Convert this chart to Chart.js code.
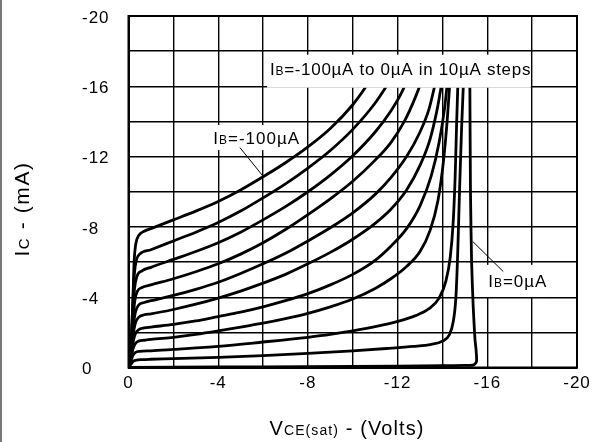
<!DOCTYPE html>
<html><head><meta charset="utf-8">
<script src="https://cdn.jsdelivr.net/npm/chart.js@4/dist/chart.umd.min.js"></script>
<style>
html,body{margin:0;padding:0;background:#fff;}
#wrap{position:relative;width:594px;height:442px;}
#edge{position:absolute;left:0;top:0;width:2px;height:442px;background:#777;}
canvas{display:block}
</style></head><body>
<div id="wrap"><canvas id="c" width="594" height="442"></canvas><div id="edge"></div></div>
<script>
// ---- data: V_CE (volts) , I_C (mA) pairs per base current ----
const ibSteps = ['-100','-90','-80','-70','-60','-50','-40','-30','-20','-10','0']; // µA
const curveIb100 = [[0,0],[-0.12,-1.5],[-0.2,-4],[-0.25,-6],[-0.32,-7.0],[-0.45,-7.5],[-0.7,-7.75],[-1,-7.9],[-2,-8.4],[-3,-8.9],[-4,-9.45],[-5,-10.1],[-6,-10.85],[-7,-11.65],[-8,-12.55],[-9,-13.6],[-10,-14.95],[-10.6,-16],[-10.9,-16.6]];
const curveIb90 = [[0,0],[-0.12,-1.5],[-0.2,-3.8],[-0.26,-5.3],[-0.35,-6.1],[-0.5,-6.45],[-1,-6.7],[-2,-7.2],[-3,-7.7],[-4,-8.25],[-5,-8.9],[-6,-9.65],[-7,-10.45],[-8,-11.35],[-9,-12.35],[-10,-13.55],[-11,-15.05],[-11.6,-16.2],[-11.8,-16.6]];
const curveIb80 = [[0,0],[-0.12,-1.3],[-0.2,-3.2],[-0.27,-4.5],[-0.38,-5.2],[-0.6,-5.5],[-1,-5.7],[-2,-6.15],[-3,-6.6],[-4,-7.1],[-5,-7.7],[-6,-8.4],[-7,-9.15],[-8,-10.0],[-9,-10.95],[-10,-12.05],[-11,-13.4],[-11.7,-14.6],[-12.2,-15.7],[-12.5,-16.6]];
const curveIb70 = [[0,0],[-0.12,-1.2],[-0.2,-2.7],[-0.28,-3.8],[-0.4,-4.35],[-0.6,-4.55],[-1,-4.7],[-2,-5.05],[-3,-5.45],[-4,-5.9],[-5,-6.45],[-6,-7.1],[-7,-7.85],[-8,-8.7],[-9,-9.6],[-10,-10.6],[-11,-11.8],[-11.7,-12.8],[-12.3,-14.0],[-12.8,-15.4],[-13.15,-16.6]];
const curveIb60 = [[0,0],[-0.12,-1.0],[-0.2,-2.2],[-0.3,-3.1],[-0.45,-3.55],[-0.7,-3.7],[-1,-3.8],[-2,-4.1],[-3,-4.45],[-4,-4.85],[-5,-5.35],[-6,-5.9],[-7,-6.5],[-8,-7.2],[-9,-7.95],[-10,-8.8],[-11,-9.85],[-11.7,-10.8],[-12.4,-12.0],[-13.0,-13.4],[-13.4,-14.7],[-13.65,-16],[-13.75,-16.6]];
const curveIb50 = [[0,0],[-0.12,-0.9],[-0.2,-1.8],[-0.3,-2.5],[-0.45,-2.85],[-0.7,-3.0],[-1,-3.05],[-2,-3.3],[-3,-3.6],[-4,-3.95],[-5,-4.35],[-6,-4.8],[-7,-5.3],[-8,-5.9],[-9,-6.55],[-10,-7.3],[-11,-8.2],[-11.7,-9.0],[-12.4,-10.1],[-13.0,-11.5],[-13.45,-13.0],[-13.75,-14.6],[-13.95,-16],[-14.05,-16.6]];
const curveIb40 = [[0,0],[-0.12,-0.8],[-0.2,-1.4],[-0.3,-1.9],[-0.45,-2.15],[-0.7,-2.25],[-1,-2.3],[-2,-2.45],[-3,-2.65],[-4,-2.9],[-5,-3.15],[-6,-3.45],[-7,-3.8],[-8,-4.2],[-9,-4.7],[-10,-5.3],[-11,-6.1],[-11.7,-6.9],[-12.4,-7.9],[-13.0,-9.2],[-13.5,-10.9],[-13.85,-12.8],[-14.1,-14.8],[-14.25,-16.6]];
const curveIb30 = [[0,0],[-0.12,-0.6],[-0.2,-1.05],[-0.3,-1.35],[-0.45,-1.5],[-0.7,-1.55],[-1,-1.6],[-2,-1.72],[-3,-1.88],[-4,-2.08],[-5,-2.3],[-6,-2.52],[-7,-2.78],[-8,-3.08],[-9,-3.45],[-10,-3.9],[-11,-4.5],[-11.7,-5.05],[-12.4,-5.75],[-13.0,-6.6],[-13.45,-7.8],[-13.8,-9.5],[-14.05,-11.8],[-14.22,-14.2],[-14.35,-16.6]];
const curveIb20 = [[0,0],[-0.12,-0.4],[-0.2,-0.7],[-0.3,-0.85],[-0.5,-0.92],[-1,-0.95],[-2,-1.03],[-4,-1.2],[-6,-1.45],[-8,-1.72],[-9,-1.88],[-10,-2.08],[-11,-2.32],[-12,-2.62],[-12.8,-2.95],[-13.4,-3.35],[-13.85,-3.95],[-14.15,-4.9],[-14.35,-6.3],[-14.48,-8.3],[-14.57,-11],[-14.63,-13.8],[-14.7,-16.6]];
const curveIb10 = [[0,0],[-0.12,-0.2],[-0.2,-0.35],[-0.35,-0.42],[-0.6,-0.45],[-1,-0.47],[-2,-0.5],[-4,-0.58],[-6,-0.68],[-8,-0.8],[-10,-0.95],[-11.5,-1.08],[-12.7,-1.2],[-13.5,-1.32],[-14.0,-1.5],[-14.3,-1.85],[-14.48,-2.6],[-14.6,-4.0],[-14.68,-6.5],[-14.76,-10],[-14.85,-13.5],[-14.95,-16.6]];
const curveIb0 = [[0,0],[-4,-0.03],[-8,-0.05],[-12,-0.08],[-14,-0.1],[-15.0,-0.12],[-15.4,-0.15],[-15.52,-0.35],[-15.5,-1.0],[-15.45,-1.6],[-15.37,-3.5],[-15.3,-6],[-15.25,-10],[-15.22,-16.6]];
const curves = [curveIb100,curveIb90,curveIb80,curveIb70,curveIb60,curveIb50,curveIb40,curveIb30,curveIb20,curveIb10,curveIb0];

const xTickValues = [0,-4,-8,-12,-16,-20];
const xTickLabels = ['0','-4','-8','-12','-16','-20'];
const yTickValues = [0,-4,-8,-12,-16,-20];
const yTickLabels = ['0','-4','-8','-12','-16','-20'];

const F = '"Liberation Sans", Arial, Helvetica, sans-serif';

function richWidth(ctx, parts){ let w=0; for(const p of parts){ ctx.font = p.s+'px '+F; w += ctx.measureText(p.t).width; } return w; }
function drawRich(ctx, parts, x, y, align){
  const w = richWidth(ctx, parts);
  let cx = align==='center' ? x - w/2 : (align==='right' ? x - w : x);
  ctx.textAlign = 'left';
  for(const p of parts){ ctx.font = p.s+'px '+F; ctx.fillText(p.t, cx, y); cx += ctx.measureText(p.t).width; }
}

const deco = {
  id:'deco',
  beforeDraw(chart){
    const c = chart.ctx; c.save(); c.fillStyle='#fff'; c.fillRect(0,0,chart.width,chart.height); c.restore();
  },
  afterDatasetsDraw(chart){
    const c = chart.ctx, xs = chart.scales.x, ys = chart.scales.y, a = chart.chartArea;
    const X = v => xs.getPixelForValue(v), Y = v => ys.getPixelForValue(v);
    c.save();
    c.fillStyle = '#000';
    // annotation boxes
    function box(v1,v2,i1,i2){ c.fillStyle='#fff'; c.fillRect(X(v1), Y(i1), X(v2)-X(v1), Y(i2)-Y(i1)); c.fillStyle='#000'; }
    function leader(v1,i1,v2,i2){ c.beginPath(); c.lineWidth=1; c.strokeStyle='#000'; c.moveTo(X(v1),Y(i1)); c.lineTo(X(v2),Y(i2)); c.stroke(); }
    box(-6.18,-17.94,-17.8,-15.92);
    c.letterSpacing = '0.7px';
    drawRich(c,[{t:'I',s:17},{t:'B',s:12},{t:'=-100µA to 0µA in 10µA steps',s:17}], X(-6.31), Y(-16.67), 'left');
    c.letterSpacing = '1px';
    box(-3.68,-7.73,-13.8,-12.37);
    drawRich(c,[{t:'I',s:17},{t:'B',s:12},{t:'=-100µA',s:17}], X(-3.78), Y(-12.73), 'left');
    leader(-4.97,-12.51,-6.01,-10.87);
    box(-15.98,-18.79,-5.84,-4.01);
    drawRich(c,[{t:'I',s:17},{t:'B',s:12},{t:'=0µA',s:17}], X(-16.04), Y(-4.6), 'left');
    leader(-15.35,-7.17,-16.71,-5.46);
    // frame
    c.strokeStyle = '#000'; c.lineWidth = 2;
    c.strokeRect(a.left, a.top, a.right - a.left, a.bottom - a.top);
    // tick labels
    c.textBaseline = 'middle';
    c.font = '17px '+F;
    yTickValues.forEach((v,i)=>{ c.textAlign='left'; c.fillText(yTickLabels[i], 82, Y(v)+2); });
    xTickValues.forEach((v,i)=>{ c.textAlign='center'; c.fillText(xTickLabels[i], X(v), 383); });
    c.textBaseline = 'alphabetic';
    // axis titles
    c.letterSpacing = '1.1px';
    drawRich(c,[{t:'V',s:20},{t:'CE(sat)',s:14},{t:' - (Volts)',s:20}], 347, 435, 'center');
    c.letterSpacing = '1.6px';
    c.translate(29, 209); c.rotate(-Math.PI/2);
    drawRich(c,[{t:'I',s:21},{t:'C',s:15},{t:' - (mA)',s:21}], 0, 0, 'center');
    c.restore();
  }
};

new Chart(document.getElementById('c'), {
  type:'scatter',
  data:{ datasets: curves.map((pts,k)=>({
    label:'IB='+ibSteps[k]+'µA',
    data: pts.map(p=>({x:p[0], y:p[1]})),
    showLine:true, borderColor:'#000', borderWidth:2.8, pointRadius:0, fill:false,
    cubicInterpolationMode: k===10 ? 'default' : 'monotone',
    tension: k===10 ? 0.2 : 0.4
  }))},
  options:{
    responsive:false, animation:false, devicePixelRatio:1,
    layout:{ padding:{ left:128.5, top:16, right:17, bottom:74.5 } },
    plugins:{ legend:{display:false}, tooltip:{enabled:false} },
    scales:{
      x:{ type:'linear', min:-20, max:0, reverse:true,
          ticks:{ display:false, stepSize:2 },
          grid:{ color:'#000', lineWidth:1.4, drawTicks:false },
          border:{ display:true, color:'#000', width:2 } },
      y:{ type:'linear', min:-20, max:0, reverse:true,
          ticks:{ display:false, stepSize:2 },
          grid:{ color:'#000', lineWidth:1.4, drawTicks:false },
          border:{ display:true, color:'#000', width:2 } }
    }
  },
  plugins:[deco]
});
</script></body></html>
